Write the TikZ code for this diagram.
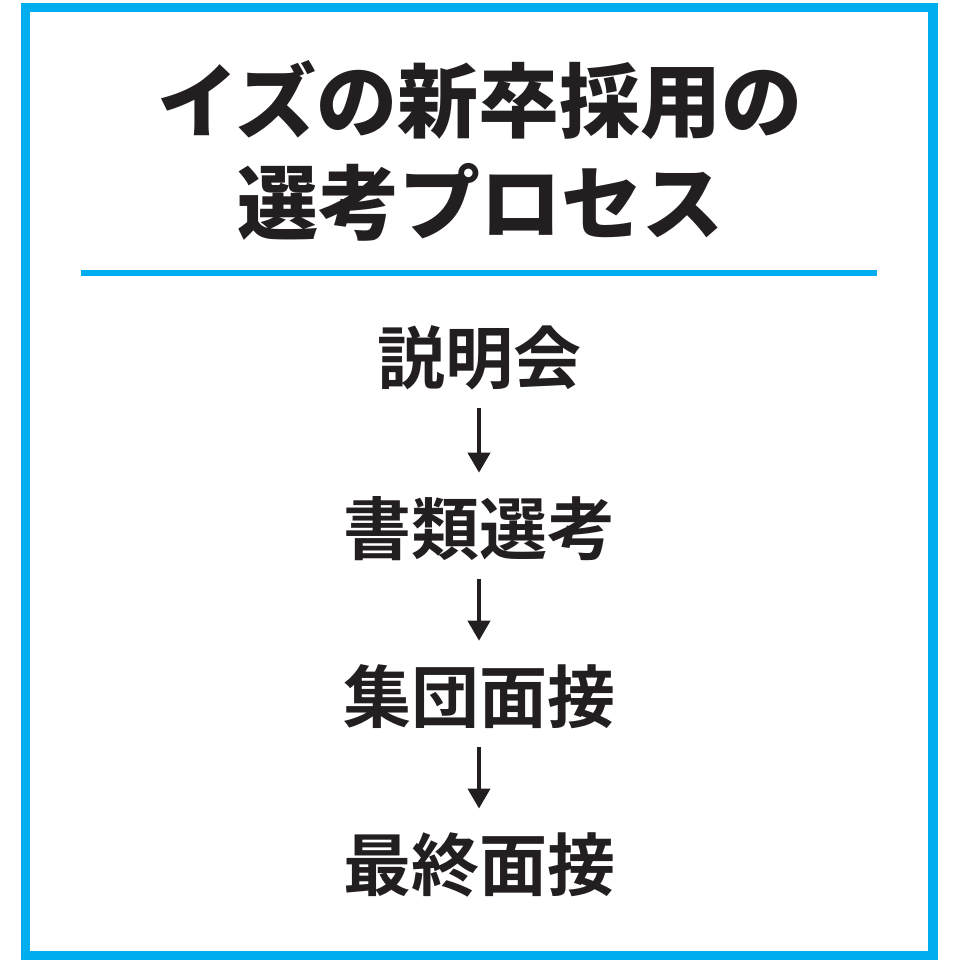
\documentclass[tikz,border=0pt]{standalone}
\usepackage{fontspec}
\newfontfamily\jp{Noto Sans CJK JP}[BoldFont={Noto Sans CJK JP Bold}]
\newfontfamily\jpblack{Noto Sans CJK JP Black}
\usetikzlibrary{arrows.meta}
\definecolor{cyanb}{HTML}{00AEEF}
\definecolor{ink}{HTML}{231F20}
\tikzset{
  titletext/.style={font=\jpblack\fontsize{81bp}{100bp}\selectfont, text=ink, inner sep=0pt},
  steptext/.style={font=\jp\bfseries\fontsize{68bp}{80bp}\selectfont, text=ink, inner sep=0pt},
  flowarrow/.style={draw=ink, line width=4bp, -{Triangle[width=22bp,length=20bp]}, shorten <=18bp, shorten >=24bp},
}
\begin{document}
\begin{tikzpicture}[x=1bp,y=-1bp]
\useasboundingbox (0,0) rectangle (963,963);
\fill[white] (0,0) rectangle (963,963);
\draw[cyanb, line width=9.5bp] (25.5,7.5) rectangle (933,955.5);
\node[titletext] (t1) at (480,100) {イズの新卒採用の};
\node[titletext] (t2) at (480,202) {選考プロセス};
\draw[cyanb, line width=6bp] (81,273) coordinate (l1) -- (877,273) coordinate (l2);
\node[steptext] (s1) at (479,358) {説明会};
\node[steptext] (s2) at (479,529) {書類選考};
\node[steptext] (s3) at (479,697) {集団面接};
\node[steptext] (s4) at (479,865) {最終面接};
\draw[flowarrow] (s1.south) -- (s2.north);
\draw[flowarrow] (s2.south) -- (s3.north);
\draw[flowarrow] (s3.south) -- (s4.north);
\end{tikzpicture}
\end{document}
